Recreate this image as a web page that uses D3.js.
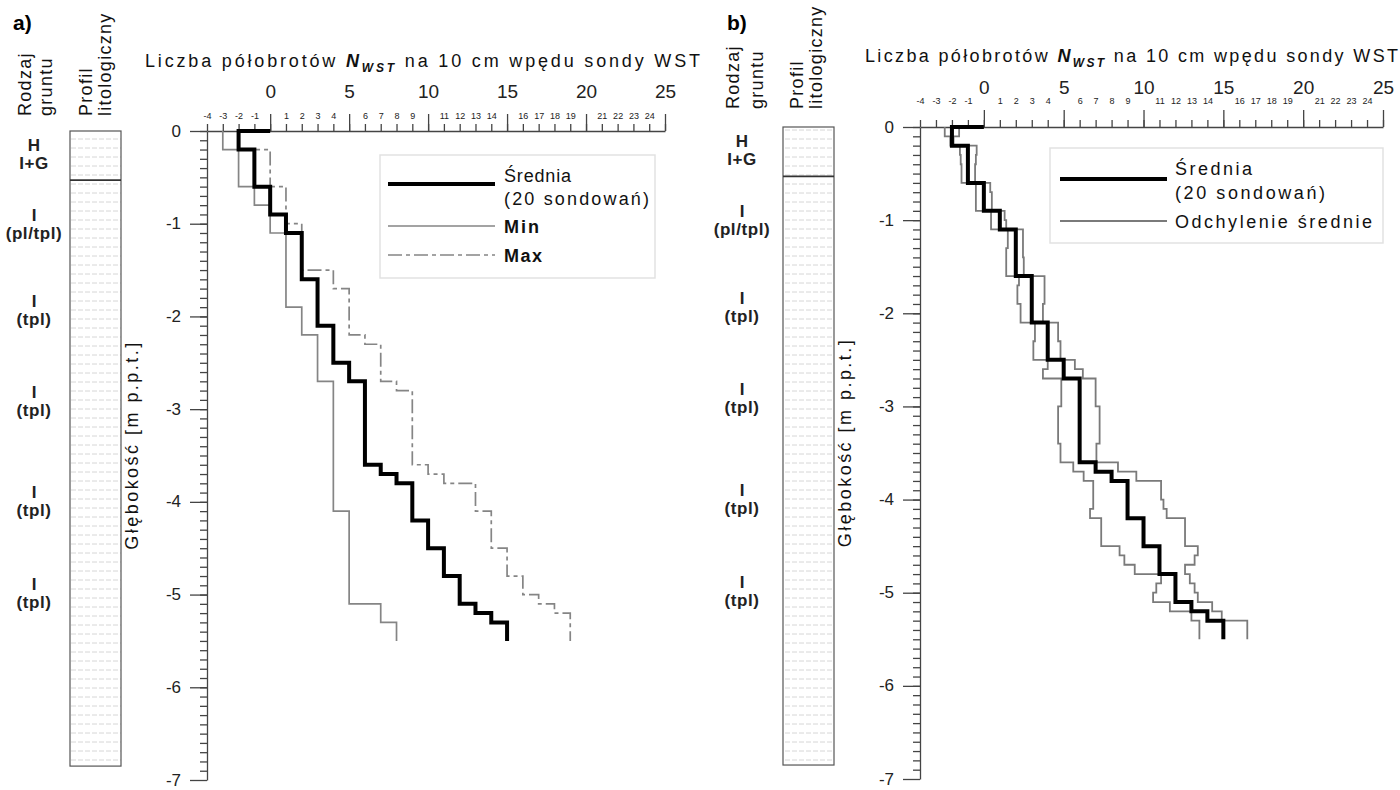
<!DOCTYPE html>
<html>
<head>
<meta charset="utf-8">
<script src="https://cdnjs.cloudflare.com/ajax/libs/d3/7.8.5/d3.min.js"></script>
<style>
  body { margin: 0; background: #fff; }
  svg { font-family: Arial, "Liberation Sans", sans-serif; }
</style>
</head>
<body>
<svg width="1400" height="790"></svg>
<script>
// --- data ---
const majorTicks = [0, 5, 10, 15, 20, 25];
const depthLabels = [0, 1, 2, 3, 4, 5, 6, 7];
const soilMain = ["H", "I", "I", "I", "I", "I"];
const soilSub = ["I+G", "(pl/tpl)", "(tpl)", "(tpl)", "(tpl)", "(tpl)"];
const soilDepth = [0.22, 0.97, 1.9, 2.88, 3.96, 4.95];
const layerBoundary = 0.53;
const profileBottom = 6.85;
const endDepth = 5.5;

// mean of 20 soundings (same in both panels): top of each step and N value
const meanTop = [0, 0, 0.2, 0.6, 0.9, 1.1, 1.6, 2.1, 2.5, 2.7, 3.6, 3.7, 3.8, 4.2, 4.5, 4.8, 5.1, 5.2, 5.3];
const meanN   = [0, -2, -1, 0, 1, 2, 3, 4, 5, 6, 7, 8, 9, 10, 11, 12, 13, 14, 15];

// panel a: min and max
const minTop = [0, 0.2, 0.6, 0.8, 1.1, 1.9, 2.2, 2.7, 4.1, 5.1, 5.3];
const minN   = [-3, -2, -1, 0, 1, 2, 3, 4, 5, 7, 8];
const maxTop = [0, 0.2, 0.6, 1.0, 1.5, 1.7, 2.2, 2.3, 2.7, 2.8, 3.6, 3.7, 3.8, 4.1, 4.5, 4.8, 5.0, 5.1, 5.2];
const maxN   = [-2, 0, 1, 2, 4, 5, 6, 7, 8, 9, 10, 11, 13, 14, 15, 16, 17, 18, 19];

// panel b: mean minus / plus mean deviation
const lowTop = [0, 0.1, 0.2, 0.3, 0.4, 0.6, 0.9, 1.1, 1.3, 1.6, 1.7, 1.9, 2.1, 2.3, 2.5, 2.6, 2.7, 3.0, 3.4,
                3.6, 3.7, 3.8, 4.1, 4.2, 4.5, 4.6, 4.7, 4.8, 4.9, 5.0, 5.1, 5.2, 5.3];
const lowN   = [-2.45, -2.1, -1.5, -1.45, -1.4, -0.5, 0.45, 1.5, 1.4, 2.2, 2.1, 2.3, 3.2, 3.1, 4.0, 3.7, 4.85, 4.65, 4.8,
                5.6, 6.25, 6.85, 6.65, 7.35, 8.5, 8.8, 9.45, 11.1, 10.8, 10.6, 11.65, 13.0, 13.5];
const highTop = [0, 0.1, 0.2, 0.3, 0.4, 0.6, 0.7, 0.9, 1.0, 1.1, 1.4, 1.6, 1.9, 2.1, 2.3, 2.5, 2.6, 2.7, 3.0, 3.4,
                 3.6, 3.7, 3.8, 4.0, 4.1, 4.2, 4.5, 4.6, 4.7, 4.8, 4.9, 5.0, 5.1, 5.2, 5.3];
const highN   = [-1.55, -1.9, -0.45, -0.5, -0.55, 0.4, 0.5, 1.3, 1.4, 2.45, 2.5, 3.8, 3.7, 4.65, 4.8, 5.7, 6.2, 7.0, 7.25, 7.05,
                 8.4, 9.55, 11.1, 11.25, 11.45, 12.6, 13.4, 13.2, 12.6, 12.9, 13.2, 13.4, 14.3, 14.9, 16.5];

const svg = d3.select("svg");
const axisColor = "#444";

const defs = svg.append("defs");
const pat = defs.append("pattern").attr("id", "lith")
    .attr("width", 14).attr("height", 9).attr("patternUnits", "userSpaceOnUse");
pat.append("path").attr("d", "M1,4h5M8,4h5").attr("stroke", "#d6d6d6").attr("stroke-width", 1);

function steps(tops, vals) {
    const pts = tops.map((t, i) => [vals[i], t]);
    pts.push([vals[vals.length - 1], endDepth]);
    return pts;
}

const panels = [
    {
        letter: "a)", letterX: 13,
        x: d3.scaleLinear().domain([-4, 25]).range([207, 665]),
        y: d3.scaleLinear().domain([0, 7]).range([131, 780]),
        heads: [[31, "Rodzaj"], [52, "gruntu"], [92, "Profil"], [111, "litologiczny"]], headY: 116,
        soilX: 34, prof: [70, 121], yTitleX: 138,
        titleX: 145, titleY: 67, titleLen: 555, minorPad: 5,
        series: [
            { pts: steps(minTop, minN), color: "#858585", width: 1.7 },
            { pts: steps(maxTop, maxN), color: "#858585", width: 1.7, dash: "14,4,4,4" },
            { pts: steps(meanTop, meanN), color: "#000", width: 4 }
        ],
        legend: { x: 380, y: 155, w: 275, h: 123, lx: [388, 495], tx: 504,
            rows: [
                { ly: 184, color: "#000", width: 4, texts: [["Średnia", 182, 67, false], ["(20 sondowań)", 205, 145, false]] },
                { ly: 226, color: "#858585", width: 1.7, texts: [["Min", 233, 35, true]] },
                { ly: 255, color: "#858585", width: 1.7, dash: "14,4,4,4", texts: [["Max", 262, 38, true]] }
            ] }
    },
    {
        letter: "b)", letterX: 727,
        x: d3.scaleLinear().domain([-4, 25]).range([920, 1383]),
        y: d3.scaleLinear().domain([0, 7]).range([127, 779]),
        heads: [[739, "Rodzaj"], [763, "gruntu"], [803, "Profil"], [822, "litologiczny"]], headY: 109,
        soilX: 742, prof: [783, 834], yTitleX: 851,
        titleX: 865, titleY: 62, titleLen: 533, minorPad: 16,
        series: [
            { pts: steps(lowTop, lowN), color: "#7a7a7a", width: 1.8 },
            { pts: steps(highTop, highN), color: "#7a7a7a", width: 1.8 },
            { pts: steps(meanTop, meanN), color: "#000", width: 4 }
        ],
        legend: { x: 1050, y: 148, w: 333, h: 95, lx: [1060, 1167], tx: 1175,
            rows: [
                { ly: 179, color: "#000", width: 4, texts: [["Średnia", 175, 77, false], ["(20 sondowań)", 199, 150, false]] },
                { ly: 221, color: "#7a7a7a", width: 1.8, texts: [["Odchylenie średnie", 228, 197, false]] }
            ] }
    }
];

panels.forEach(p => {
    const g = svg.append("g");
    const x = p.x, y = p.y;

    g.append("text").attr("x", p.letterX).attr("y", 30)
        .attr("font-size", 21).attr("font-weight", "bold").text(p.letter);

    // rotated column headers
    p.heads.forEach(([hx, t]) => {
        g.append("text")
            .attr("transform", `translate(${hx},${p.headY}) rotate(-90)`)
            .attr("font-size", 18).attr("letter-spacing", 1.3).attr("fill", "#111")
            .text(t);
    });

    // soil type labels
    soilMain.forEach((t, i) => {
        const ty = y(soilDepth[i]);
        g.append("text").attr("x", p.soilX).attr("y", ty).attr("text-anchor", "middle")
            .attr("font-size", 17).attr("font-weight", "bold").attr("fill", "#222").text(t);
        g.append("text").attr("x", p.soilX).attr("y", ty + 18).attr("text-anchor", "middle")
            .attr("font-size", 17).attr("font-weight", "bold").attr("fill", "#222")
            .attr("letter-spacing", 0.6).text(soilSub[i]);
    });

    // lithological profile column
    g.append("rect").attr("x", p.prof[0]).attr("y", y(0))
        .attr("width", p.prof[1] - p.prof[0]).attr("height", y(profileBottom) - y(0))
        .attr("fill", "url(#lith)").attr("stroke", "#555").attr("stroke-width", 1.2);
    g.append("line").attr("x1", p.prof[0]).attr("x2", p.prof[1])
        .attr("y1", y(layerBoundary)).attr("y2", y(layerBoundary))
        .attr("stroke", "#333").attr("stroke-width", 1.6);

    // x axis (top)
    const x0 = y(0);
    const minorX = g.append("g").attr("transform", `translate(0,${x0})`)
        .call(d3.axisTop(x).tickValues(d3.range(-4, 26)).tickSize(7).tickSizeOuter(0).tickPadding(p.minorPad)
            .tickFormat(d => d % 5 === 0 ? "" : d));
    minorX.selectAll("text").attr("font-size", 9).attr("fill", "#222");
    const majorX = g.append("g").attr("transform", `translate(0,${x0})`)
        .call(d3.axisTop(x).tickValues(majorTicks).tickSize(17).tickSizeOuter(0).tickPadding(16));
    majorX.select(".domain").remove();
    majorX.selectAll("text").attr("font-size", 19).attr("fill", "#222");

    // y axis (left)
    const y0 = x(-4);
    g.append("g").attr("transform", `translate(${y0},0)`)
        .call(d3.axisLeft(y).tickValues(d3.range(0, 70).map(i => i / 10)).tickSize(7).tickSizeOuter(0).tickFormat(""));
    const majorY = g.append("g").attr("transform", `translate(${y0},0)`)
        .call(d3.axisLeft(y).tickValues(depthLabels).tickSize(17).tickSizeOuter(0).tickPadding(9)
            .tickFormat(d => d === 0 ? "0" : "-" + d));
    majorY.select(".domain").remove();
    majorY.selectAll("text").attr("font-size", 17).attr("fill", "#222").attr("dy", "0.3em");

    g.selectAll(".domain, .tick line").attr("stroke", axisColor).attr("stroke-width", 1.3);

    // axis titles
    g.append("text").attr("transform", `translate(${p.yTitleX},${y(3.4)}) rotate(-90)`)
        .attr("text-anchor", "middle").attr("font-size", 18).attr("fill", "#111")
        .attr("textLength", 207).attr("lengthAdjust", "spacing")
        .text("Głębokość [m p.p.t.]");

    const title = g.append("text").attr("x", p.titleX).attr("y", p.titleY)
        .attr("font-size", 18).attr("fill", "#111")
        .attr("textLength", p.titleLen).attr("lengthAdjust", "spacing");
    title.append("tspan").text("Liczba półobrotów ");
    title.append("tspan").attr("font-style", "italic").attr("font-weight", "bold").text("N");
    title.append("tspan").attr("font-style", "italic").attr("font-weight", "bold")
        .attr("font-size", 12).attr("dy", 5).text("WST");
    title.append("tspan").attr("dy", -5).text(" na 10 cm wpędu sondy WST");

    // step lines
    const line = d3.line().x(d => x(d[0])).y(d => y(d[1])).curve(d3.curveStepBefore);
    p.series.forEach(s => {
        g.append("path").attr("d", line(s.pts)).attr("fill", "none")
            .attr("stroke", s.color).attr("stroke-width", s.width)
            .attr("stroke-dasharray", s.dash || null);
    });

    // legend
    const L = p.legend;
    const lg = g.append("g");
    lg.append("rect").attr("x", L.x).attr("y", L.y).attr("width", L.w).attr("height", L.h)
        .attr("fill", "#fff").attr("stroke", "#e2e2e2").attr("stroke-width", 1.5);
    L.rows.forEach(r => {
        lg.append("line").attr("x1", L.lx[0]).attr("x2", L.lx[1]).attr("y1", r.ly).attr("y2", r.ly)
            .attr("stroke", r.color).attr("stroke-width", r.width).attr("stroke-dasharray", r.dash || null);
        r.texts.forEach(([t, ty, len, bold]) => {
            lg.append("text").attr("x", L.tx).attr("y", ty).attr("font-size", 18)
                .attr("font-weight", bold ? "bold" : null).attr("fill", "#111")
                .attr("textLength", len).attr("lengthAdjust", "spacing").text(t);
        });
    });
});
</script>
</body>
</html>
